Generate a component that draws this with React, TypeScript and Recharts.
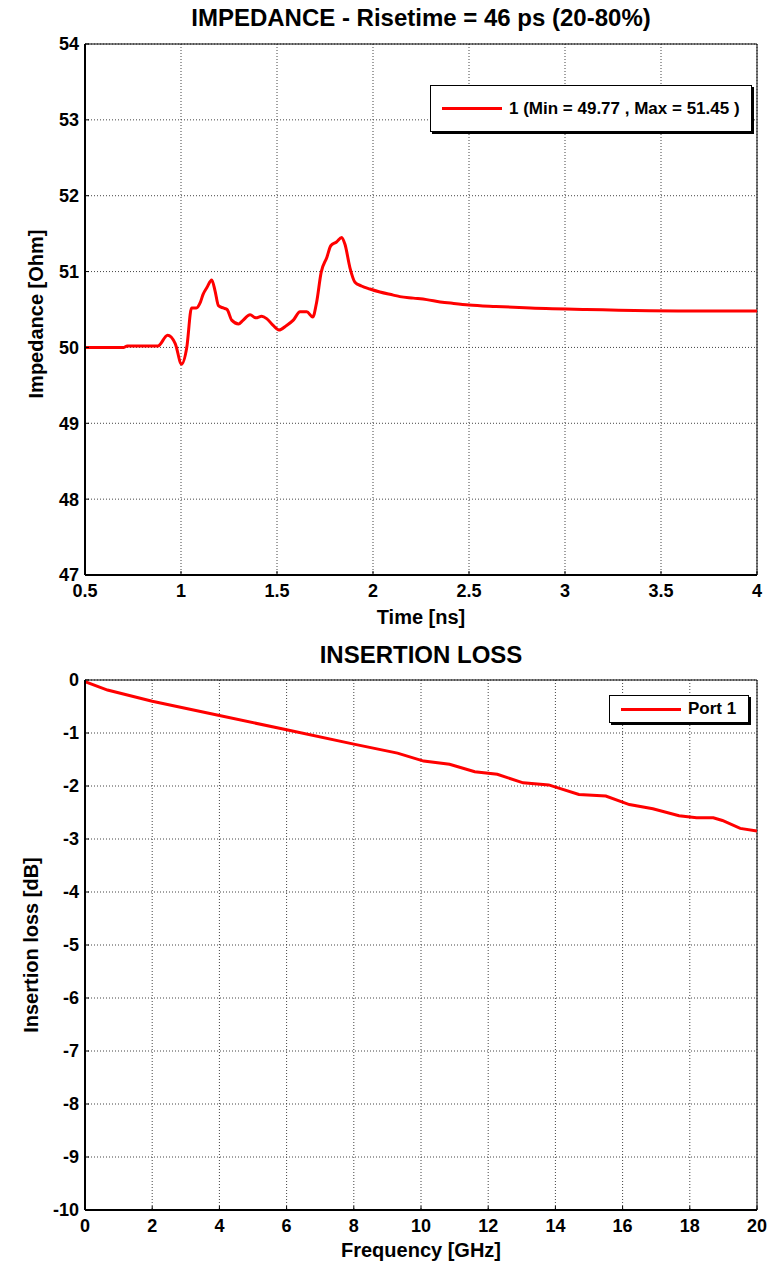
import React from 'react';
import {
  LineChart,
  Line,
  XAxis,
  YAxis,
  CartesianGrid,
  ReferenceArea
} from 'recharts';

// impedance trace (TDR), time in ns
const impedanceTime = [
  0.5, 0.7, 0.72, 0.88, 0.93, 0.97, 1.003, 1.03, 1.055, 1.08, 1.1, 1.115, 1.135, 1.16,
  1.177, 1.195, 1.22, 1.24, 1.264, 1.3, 1.32, 1.36, 1.39, 1.42, 1.446, 1.48, 1.51, 1.55,
  1.585, 1.62, 1.655, 1.686, 1.706, 1.73, 1.76, 1.78, 1.81, 1.837, 1.854, 1.88, 1.906,
  1.94, 1.984, 2.036, 2.106, 2.14, 2.21, 2.28, 2.35, 2.42, 2.5, 2.64, 2.82, 3.11, 3.73, 4.0
];
const impedanceOhm = [
  50.0, 50.0, 50.02, 50.02, 50.16, 50.05, 49.78, 50.0, 50.52, 50.52, 50.59, 50.7, 50.79, 50.89,
  50.75, 50.55, 50.52, 50.5, 50.36, 50.31, 50.35, 50.43, 50.39, 50.41, 50.38, 50.29, 50.23, 50.29,
  50.36, 50.47, 50.47, 50.4, 50.59, 50.99, 51.19, 51.34, 51.39, 51.45, 51.36, 51.05, 50.86,
  50.81, 50.77, 50.73, 50.69, 50.67, 50.65, 50.63, 50.6, 50.58, 50.56, 50.54, 50.52, 50.5, 50.48, 50.48
];

// insertion loss, frequency in GHz
const frequencyGHz = [
  0, 0.67, 2, 4, 6, 8, 9.3, 10.08, 10.85, 11.6, 12.27, 13.04, 13.8, 14.7, 15.5, 16.2,
  16.9, 17.68, 18.2, 18.7, 18.97, 19.5, 20
];
const insertionLossDb = [
  -0.03, -0.19, -0.4, -0.67, -0.94, -1.21, -1.38, -1.53, -1.59, -1.73, -1.78, -1.94, -1.98,
  -2.16, -2.19, -2.35, -2.43, -2.56, -2.6, -2.6, -2.65, -2.8, -2.85
];

const timeTicks = [0.5, 1, 1.5, 2, 2.5, 3, 3.5, 4];
const ohmTicks = [47, 48, 49, 50, 51, 52, 53, 54];
const freqTicks = [0, 2, 4, 6, 8, 10, 12, 14, 16, 18, 20];
const dbTicks = [0, -1, -2, -3, -4, -5, -6, -7, -8, -9, -10];

const impedanceData = impedanceTime.map((t, i) => ({ t, z: impedanceOhm[i] }));
const lossData = frequencyGHz.map((f, i) => ({ f, il: insertionLossDb[i] }));

const FONT = '"Liberation Sans", Arial, Helvetica, sans-serif';
const tickStyle = { fontSize: 18, fontWeight: 700, fill: '#000', fontFamily: FONT };
const axisLine = { stroke: '#000', strokeWidth: 2 };

const abs = (left: number, top: number, extra: React.CSSProperties = {}): React.CSSProperties => ({
  position: 'absolute',
  left,
  top,
  fontFamily: FONT,
  fontWeight: 700,
  color: '#000',
  whiteSpace: 'nowrap',
  ...extra
});

function LegendBox({ left, top, width, height, text }: { left: number; top: number; width: number; height: number; text: string }) {
  return (
    <div
      style={abs(left, top, {
        width,
        height,
        border: '1px solid #000',
        background: '#fff',
        boxShadow: '2px 2px 0 #000',
        display: 'flex',
        alignItems: 'center',
        fontSize: 17,
        boxSizing: 'border-box'
      })}
    >
      <div style={{ width: 60, height: 3, background: '#ff0000', marginLeft: 11, marginRight: 7 }} />
      <span>{text}</span>
    </div>
  );
}

export default function App() {
  return (
    <div style={{ position: 'absolute', left: 0, top: 0, width: 779, height: 1264, background: '#fff' }}>
      {/* top chart */}
      <div style={{ position: 'absolute', left: 0, top: 0 }}>
        <LineChart
          width={779}
          height={630}
          data={impedanceData}
          margin={{ top: 44, right: 22, left: 0, bottom: 0 }}
        >
          <CartesianGrid stroke="#444" strokeDasharray="1 2" strokeWidth={1} />
          <XAxis
            dataKey="t"
            type="number"
            domain={[0.5, 4]}
            ticks={timeTicks}
            height={55}
            tickSize={-4}
            tickMargin={13}
            tick={tickStyle}
            tickLine={{ stroke: '#000' }}
            axisLine={axisLine}
            allowDataOverflow
          />
          <XAxis
            xAxisId="top"
            orientation="top"
            type="number"
            domain={[0.5, 4]}
            ticks={timeTicks}
            height={0}
            tickSize={-4}
            tick={false}
            tickLine={{ stroke: '#000' }}
            axisLine={axisLine}
          />
          <YAxis
            type="number"
            domain={[47, 54]}
            ticks={ohmTicks}
            width={85}
            tickSize={-4}
            tickMargin={10}
            tick={tickStyle}
            tickLine={{ stroke: '#000' }}
            axisLine={axisLine}
            allowDataOverflow
          />
          <YAxis
            yAxisId="right"
            orientation="right"
            type="number"
            domain={[47, 54]}
            ticks={ohmTicks}
            width={0}
            tickSize={-4}
            tick={false}
            tickLine={{ stroke: '#000' }}
            axisLine={axisLine}
          />
          <ReferenceArea x1={0.5} x2={4} y1={47} y2={54} fill="none" stroke="#000" strokeWidth={1} />
          <Line
            type="monotone"
            dataKey="z"
            stroke="#ff0000"
            strokeWidth={3}
            dot={false}
            isAnimationActive={false}
          />
        </LineChart>
      </div>
      <div style={abs(85, 4, { width: 672, textAlign: 'center', fontSize: 24 })}>
        IMPEDANCE - Risetime = 46 ps (20-80%)
      </div>
      <div style={abs(85, 606, { width: 672, textAlign: 'center', fontSize: 20 })}>Time [ns]</div>
      <div
        style={abs(36, 314, {
          fontSize: 20,
          transform: 'translate(-50%, -50%) rotate(-90deg)'
        })}
      >
        Impedance [Ohm]
      </div>
      <LegendBox left={430} top={85} width={322} height={47} text="1 (Min = 49.77 , Max = 51.45 )" />

      {/* bottom chart */}
      <div style={{ position: 'absolute', left: 0, top: 630 }}>
        <LineChart
          width={779}
          height={634}
          data={lossData}
          margin={{ top: 50, right: 22, left: 0, bottom: 0 }}
        >
          <CartesianGrid stroke="#444" strokeDasharray="1 2" strokeWidth={1} />
          <XAxis
            dataKey="f"
            type="number"
            domain={[0, 20]}
            ticks={freqTicks}
            height={54}
            tickSize={-4}
            tickMargin={13}
            tick={tickStyle}
            tickLine={{ stroke: '#000' }}
            axisLine={axisLine}
            allowDataOverflow
          />
          <XAxis
            xAxisId="top"
            orientation="top"
            type="number"
            domain={[0, 20]}
            ticks={freqTicks}
            height={0}
            tickSize={-4}
            tick={false}
            tickLine={{ stroke: '#000' }}
            axisLine={axisLine}
          />
          <YAxis
            type="number"
            domain={[-10, 0]}
            ticks={dbTicks}
            width={85}
            tickSize={-4}
            tickMargin={10}
            tick={tickStyle}
            tickLine={{ stroke: '#000' }}
            axisLine={axisLine}
            allowDataOverflow
          />
          <YAxis
            yAxisId="right"
            orientation="right"
            type="number"
            domain={[-10, 0]}
            ticks={dbTicks}
            width={0}
            tickSize={-4}
            tick={false}
            tickLine={{ stroke: '#000' }}
            axisLine={axisLine}
          />
          <ReferenceArea x1={0} x2={20} y1={-10} y2={0} fill="none" stroke="#000" strokeWidth={1} />
          <Line
            type="linear"
            dataKey="il"
            stroke="#ff0000"
            strokeWidth={3}
            dot={false}
            isAnimationActive={false}
          />
        </LineChart>
      </div>
      <div style={abs(85, 641, { width: 672, textAlign: 'center', fontSize: 24 })}>INSERTION LOSS</div>
      <div style={abs(85, 1239, { width: 672, textAlign: 'center', fontSize: 20 })}>Frequency [GHz]</div>
      <div
        style={abs(31, 945, {
          fontSize: 20,
          transform: 'translate(-50%, -50%) rotate(-90deg)'
        })}
      >
        Insertion loss [dB]
      </div>
      <LegendBox left={609} top={695} width={140} height={28} text="Port 1" />
    </div>
  );
}
